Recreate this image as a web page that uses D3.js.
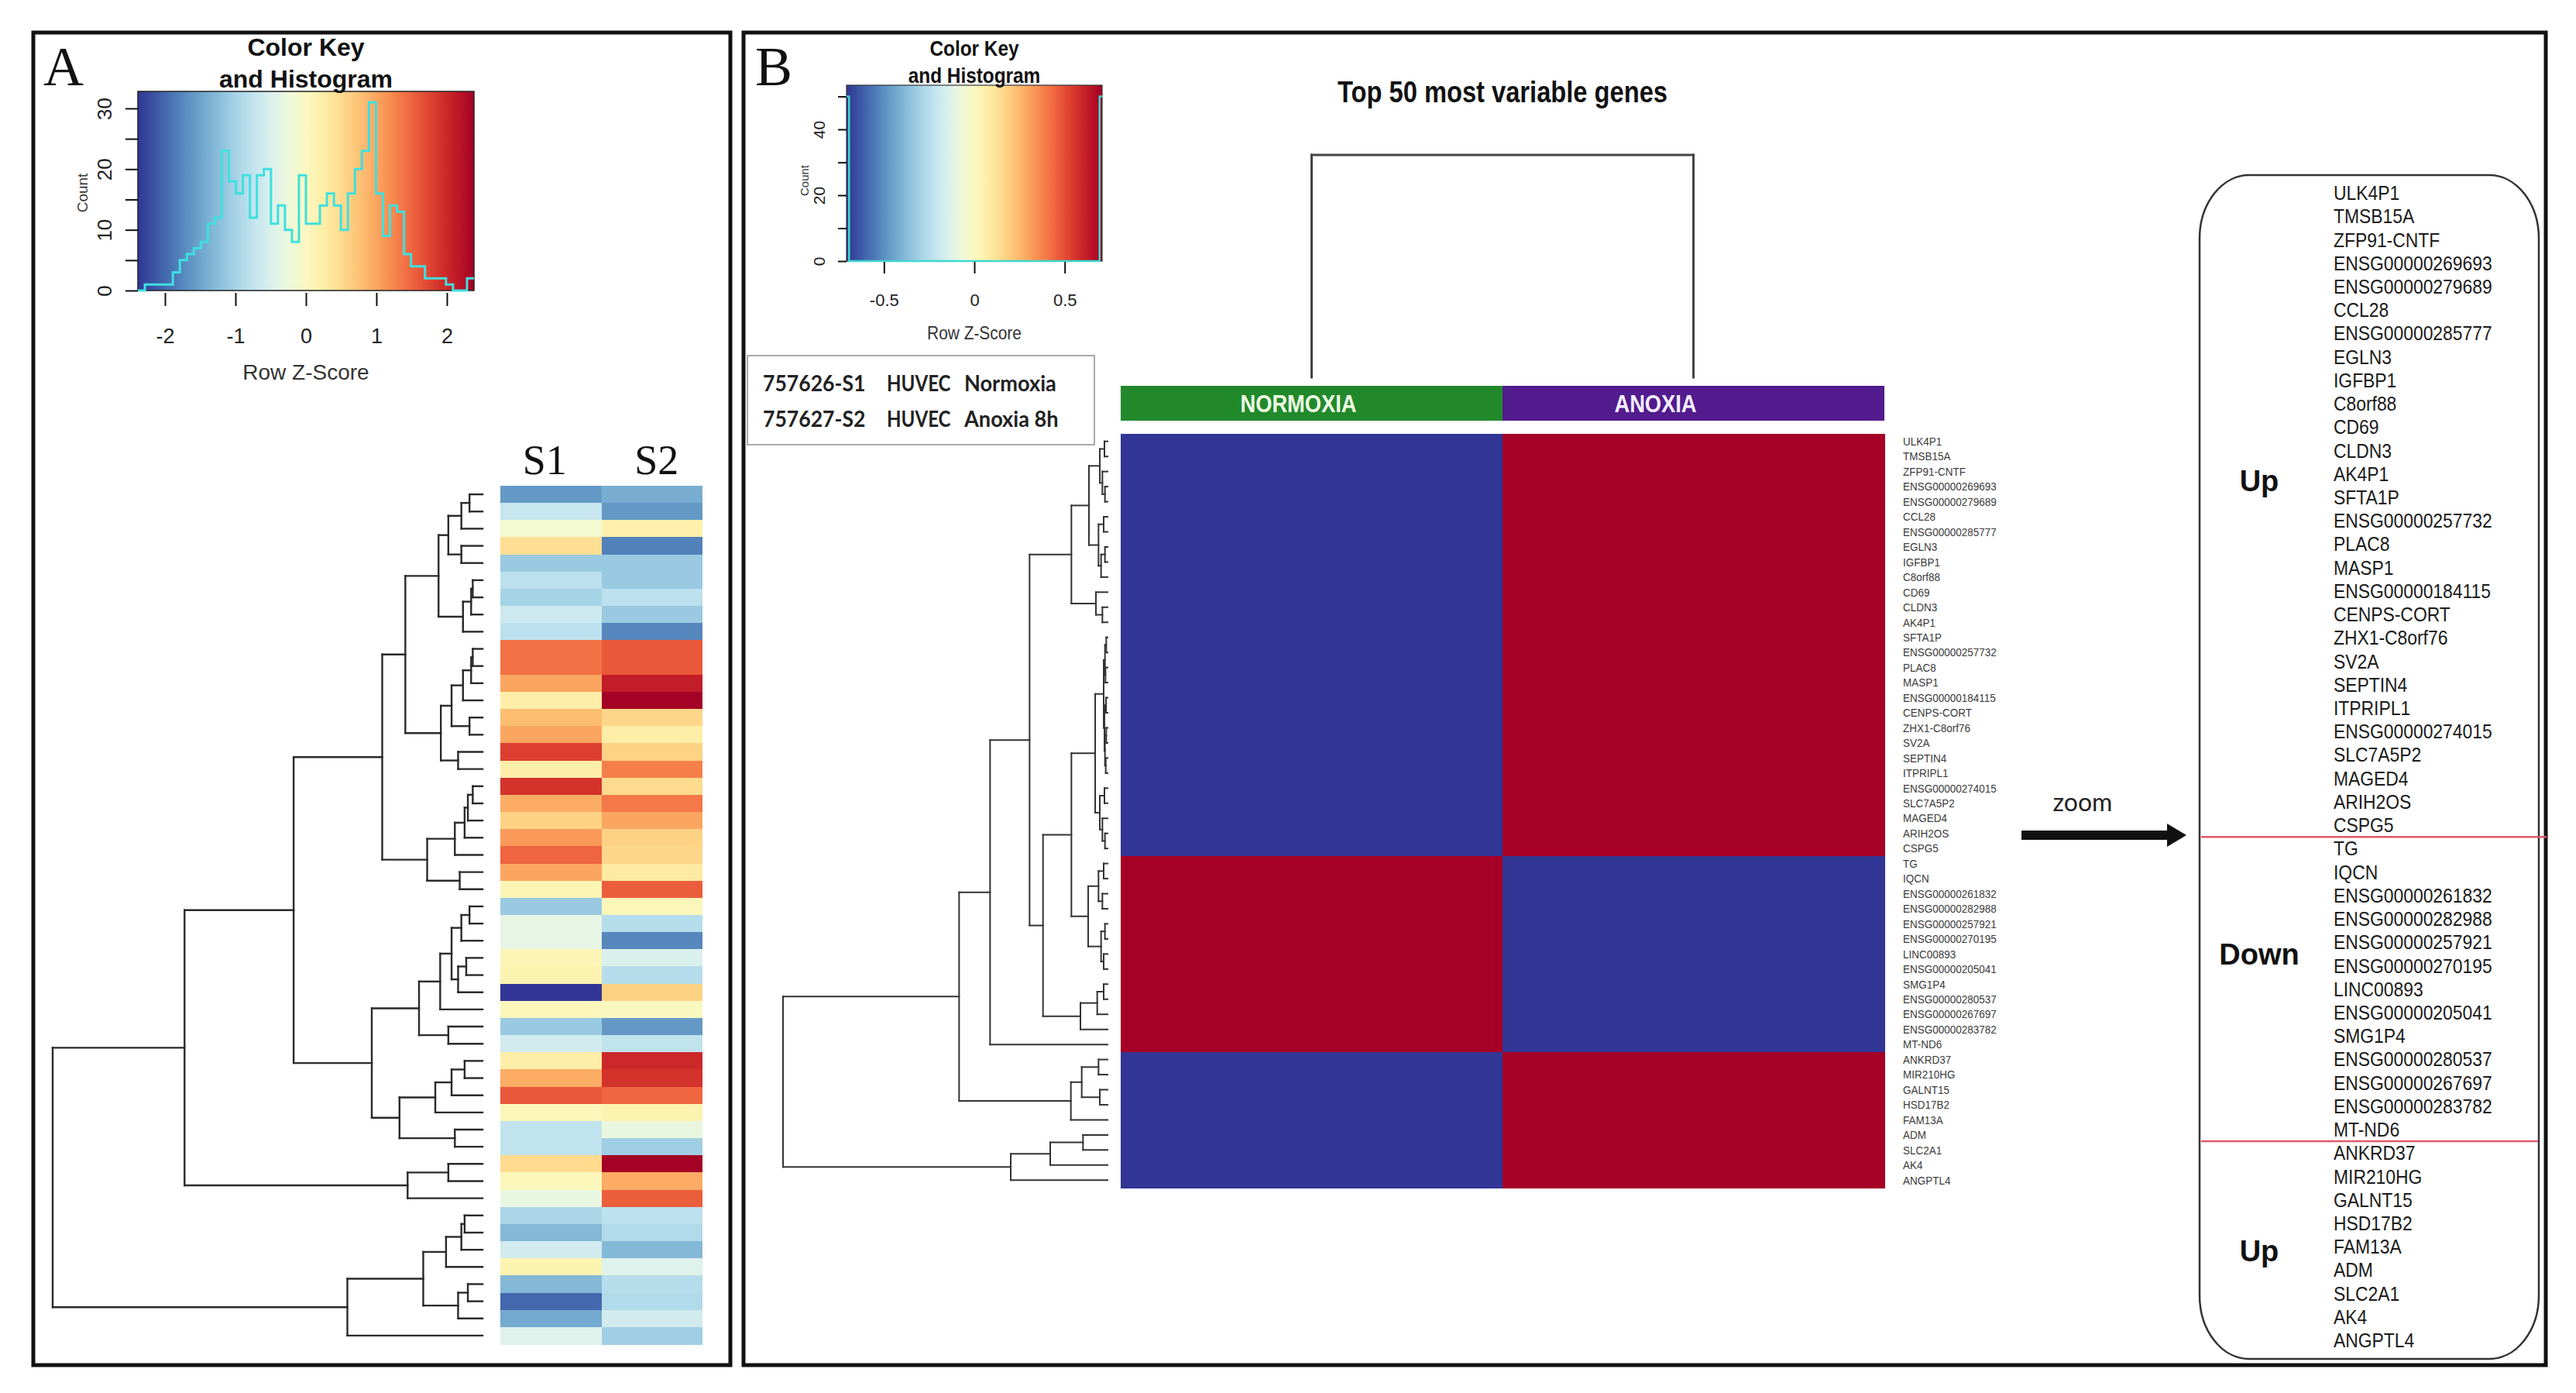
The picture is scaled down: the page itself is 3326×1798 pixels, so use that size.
<!DOCTYPE html>
<html>
<head>
<meta charset="utf-8">
<script src="https://cdn.jsdelivr.net/npm/d3@7"></script>
<style>
body { margin: 0; background: #fff; }
svg { display: block; }
</style>
</head>
<body>
<script>
// ---------- data : panel A ----------
var samplesA = ['S1', 'S2'];
var zA_S1 = [-1.6, -0.7, -0.15, 0.45, -1.1, -0.8, -1.0, -0.65, -0.8, 1.4,
             1.4, 1.0, 0.25, 0.8, 1.0, 1.8, 0.25, 1.9, 0.95, 0.6,
             1.1, 1.5, 1.0, 0.1, -1.1, -0.35, -0.35, 0.1, 0.15, -2.4,
             0.05, -1.1, -0.6, 0.25, 0.95, 1.6, 0.05, -0.75, -0.75, 0.5,
             0.05, -0.3, -0.95, -1.3, -0.6, 0.15, -1.3, -2.0, -1.45, -0.45];
var zA_S2 = [-1.4, -1.6, 0.2, -1.8, -1.1, -1.1, -0.8, -1.1, -1.75, 1.6,
             1.6, 2.1, 2.4, 0.55, 0.25, 0.6, 1.3, 0.5, 1.35, 1.0,
             0.6, 0.55, 0.3, 1.55, 0.05, -0.85, -1.75, -0.5, -0.85, 0.6,
             0.0, -1.6, -0.75, 2.0, 1.9, 1.5, 0.15, -0.3, -1.05, 2.4,
             0.95, 1.55, -0.8, -0.9, -1.3, -0.45, -0.85, -0.9, -0.6, -1.05];
// row dendrogram A : [height, left, right], leaves are row indices
var treeA = [13.2,
  [9.15,
    [5.8,
      [3.08,
        [2.37,
          [1.35, [1.05, [0.65, [0.4, 0, 1], 2], [0.65, 3, 4]], [0.6, [0.35, [0.3, 5, 6], 7], 8]],
          [1.28, [0.95, [0.6, [0.35, [0.3, 9, 10], 11], 12], [0.4, 13, 14]], [0.75, 15, 16]]
        ],
        [1.7, [0.85, [0.55, [0.45, [0.3, 17, 18], 19], 20], 21], [0.7, 22, 23]]
      ],
      [3.4,
        [1.95, [1.3, [0.95, [0.65, [0.4, 24, 25], 26], [0.75, [0.5, 27, 28], 29]], 30], [1.05, 31, 32]],
        [2.55, [1.45, [0.95, [0.55, 33, 34], 35], 36], [0.85, 37, 38]]
      ]
    ],
    [2.3, [1.05, 39, 40], 41]
  ],
  [4.15,
    [1.82, [1.12, [0.65, [0.55, 42, 43], 44], 45], [0.75, [0.45, 46, 47], 48]],
    49
  ]
];
var keyRangeA = [-2.385, 2.385];
var histA = [0, 1, 1, 1, 1, 3, 5, 6, 7, 8, 11, 12, 23, 18, 16, 19, 12, 19, 20, 11,
             14, 10, 8, 19, 11, 11, 14, 16, 14, 10, 16, 20, 23, 31, 16, 9, 14, 13, 6, 4,
             4, 2, 2, 2, 1, 0, 0, 2];
var keyTicksA = [-2, -1, 0, 1, 2];
var countTicksA = [0, 5, 10, 15, 20, 25, 30];

// ---------- data : panel B ----------
var samplesB = ['NORMOXIA', 'ANOXIA'];
var sampleColB = ['#22892b', '#521b8e'];
var genesB = ['ULK4P1', 'TMSB15A', 'ZFP91-CNTF', 'ENSG00000269693', 'ENSG00000279689', 'CCL28',
  'ENSG00000285777', 'EGLN3', 'IGFBP1', 'C8orf88', 'CD69', 'CLDN3', 'AK4P1', 'SFTA1P',
  'ENSG00000257732', 'PLAC8', 'MASP1', 'ENSG00000184115', 'CENPS-CORT', 'ZHX1-C8orf76', 'SV2A',
  'SEPTIN4', 'ITPRIPL1', 'ENSG00000274015', 'SLC7A5P2', 'MAGED4', 'ARIH2OS', 'CSPG5',
  'TG', 'IQCN', 'ENSG00000261832', 'ENSG00000282988', 'ENSG00000257921', 'ENSG00000270195',
  'LINC00893', 'ENSG00000205041', 'SMG1P4', 'ENSG00000280537', 'ENSG00000267697',
  'ENSG00000283782', 'MT-ND6',
  'ANKRD37', 'MIR210HG', 'GALNT15', 'HSD17B2', 'FAM13A', 'ADM', 'SLC2A1', 'AK4', 'ANGPTL4'];
// groups of the zoomed list; labelRow = list row where the group label sits
var groupsB = [{ label: 'Up', n: 28, labelRow: 12.3 }, { label: 'Down', n: 13, labelRow: 32.5 }, { label: 'Up', n: 9, labelRow: 45.2 }];
var zB_normoxia = [-0.71, -0.71, -0.71, -0.71, -0.71, -0.71, -0.71, -0.71, -0.71, -0.71,
  -0.71, -0.71, -0.71, -0.71, -0.71, -0.71, -0.71, -0.71, -0.71, -0.71,
  -0.71, -0.71, -0.71, -0.71, -0.71, -0.71, -0.71, -0.71,
  0.71, 0.71, 0.71, 0.71, 0.71, 0.71, 0.71, 0.71, 0.71, 0.71, 0.71, 0.71, 0.71,
  -0.71, -0.71, -0.71, -0.71, -0.71, -0.71, -0.71, -0.71, -0.71];
var zB_anoxia = [0.71, 0.71, 0.71, 0.71, 0.71, 0.71, 0.71, 0.71, 0.71, 0.71,
  0.71, 0.71, 0.71, 0.71, 0.71, 0.71, 0.71, 0.71, 0.71, 0.71,
  0.71, 0.71, 0.71, 0.71, 0.71, 0.71, 0.71, 0.71,
  -0.71, -0.71, -0.71, -0.71, -0.71, -0.71, -0.71, -0.71, -0.71, -0.71, -0.71, -0.71, -0.71,
  0.71, 0.71, 0.71, 0.71, 0.71, 0.71, 0.71, 0.71, 0.71];
var treeB = [12.57,
  [5.75,
    [4.55,
      [3.02,
        [1.4,
          [0.72,
            [0.3, [0.12, 0, 1], [0.2, 2, [0.1, 3, 4]]],
            [0.35, [0.15, 5, 6], [0.25, [0.1, 7, 8], 9]]
          ],
          [0.45, 10, [0.2, 11, 12]]
        ],
        [2.5,
          [1.4,
            [0.48,
              [0.15, [0.1, [0.05, 13, 14], [0.08, 15, 16]], [0.12, [0.06, 17, 18], [0.1, [0.05, 19, 20], [0.07, 21, 22]]]],
              [0.3, [0.12, 23, 24], [0.2, 25, [0.1, 26, 27]]]
            ],
            [0.75, [0.35, [0.15, 28, 29], [0.2, 30, 31]], [0.25, [0.1, 32, 33], [0.15, 34, 35]]]
          ],
          [1.05, [0.4, [0.15, 36, 37], 38], 39]
        ]
      ],
      40
    ],
    [1.42, [1.0, [0.35, 41, 42], [0.3, 43, 44]], 45]
  ],
  [3.75, [2.22, [0.95, 46, 47], 48], 49]
];
var colTreeB = [1, 0, 1];
var keyRangeB = [-0.707, 0.707];
var histB = [{ x0: -0.707, x1: -0.693, count: 50 }, { x0: -0.693, x1: 0.693, count: 0 }, { x0: 0.693, x1: 0.707, count: 50 }];
var keyTicksB = [-0.5, 0, 0.5];
var countTicksB = [0, 10, 20, 30, 40, 50];
var legendB = [['757626-S1', 'HUVEC', 'Normoxia'], ['757627-S2', 'HUVEC', 'Anoxia 8h']];

// ---------- setup ----------
var SANS = 'Liberation Sans, Arial, Helvetica, sans-serif';
var SERIF = 'Liberation Serif, Times New Roman, serif';
var CAL = 'Lato, Open Sans, sans-serif';
var svg = d3.select('body').append('svg').attr('width', 3326).attr('height', 1798);
var defs = svg.append('defs');

function label(g, x, y, s, size, o) {
  o = o || {};
  return g.append('text')
    .attr('transform', 'translate(' + x + ',' + y + ')' + (o.sx ? ' scale(' + o.sx + ',1)' : '') + (o.rot ? ' rotate(' + o.rot + ')' : ''))
    .attr('font-family', o.family || SANS).attr('font-size', size)
    .attr('font-weight', o.bold ? 'bold' : 'normal')
    .attr('text-anchor', o.anchor || 'start')
    .attr('dy', o.dy || 0)
    .attr('fill', o.fill || '#111').text(s);
}

function colorScale(range) {
  return d3.scaleSequential(function (t) { return d3.interpolateRdYlBu(1 - t); }).domain(range);
}

function gradient(id, col, range) {
  var gr = defs.append('linearGradient').attr('id', id)
    .attr('x1', '0%').attr('x2', '100%').attr('y1', '0%').attr('y2', '0%');
  d3.range(0, 1.0001, 0.05).forEach(function (t) {
    gr.append('stop').attr('offset', (t * 100) + '%').attr('stop-color', col(range[0] + t * (range[1] - range[0])));
  });
}

// dendrogram from nested [h, a, b]; pos(leaf) gives leaf position, hs(h) gives height position
function drawTree(g, tree, pos, hs, vertical, stroke, width) {
  var segs = [];
  function pt(p, h) { return vertical ? [p, h] : [h, p]; }
  function walk(node) {
    if (typeof node === 'number') return { p: pos(node), h: 0 };
    var a = walk(node[1]), b = walk(node[2]), x = hs(node[0]);
    segs.push([pt(a.p, x), pt(b.p, x)]);
    segs.push([pt(a.p, x), pt(a.p, hs(a.h))]);
    segs.push([pt(b.p, x), pt(b.p, hs(b.h))]);
    return { p: (a.p + b.p) / 2, h: node[0] };
  }
  walk(tree);
  g.selectAll('path.seg').data(segs).join('path').attr('class', 'seg')
    .attr('d', d3.line()).attr('fill', 'none').attr('stroke', stroke).attr('stroke-width', width)
    .attr('stroke-linecap', 'square');
}

function styleAxis(g, size) {
  g.select('.domain').remove();
  g.selectAll('.tick line').attr('stroke', '#111').attr('stroke-width', 2);
  g.selectAll('.tick text').attr('font-size', size).attr('font-family', SANS).attr('fill', '#222');
}

// ---------- panel frames ----------
svg.append('rect').attr('x', 43).attr('y', 42).attr('width', 900).attr('height', 1720)
  .attr('fill', 'none').attr('stroke', '#111').attr('stroke-width', 5);
svg.append('rect').attr('x', 960).attr('y', 42).attr('width', 2327).attr('height', 1720)
  .attr('fill', 'none').attr('stroke', '#111').attr('stroke-width', 5);
label(svg, 56, 110, 'A', 72, { family: SERIF });
label(svg, 975, 110, 'B', 72, { family: SERIF });

// ================= PANEL A =================
var gA = svg.append('g');
var colA = colorScale(keyRangeA);
gradient('gradA', colA, keyRangeA);
var zKeyA = d3.scaleLinear().domain(keyRangeA).range([178, 612]);
var cntA = d3.scaleLinear().domain([0, 32.8]).range([375, 118]);

gA.append('rect').attr('x', 178).attr('y', 118).attr('width', 434).attr('height', 257)
  .attr('fill', 'url(#gradA)').attr('stroke', '#222').attr('stroke-width', 1.5);

var binA = (keyRangeA[1] - keyRangeA[0]) / histA.length;
var ptsA = histA.map(function (c, i) { return [keyRangeA[0] + i * binA, c]; });
ptsA.push([keyRangeA[1], histA[histA.length - 1]]);
gA.append('path').datum(ptsA)
  .attr('d', d3.line().curve(d3.curveStepAfter).x(function (d) { return zKeyA(d[0]); }).y(function (d) { return cntA(d[1]); }))
  .attr('fill', 'none').attr('stroke', '#3fe0e0').attr('stroke-width', 3);

var axAx = gA.append('g').attr('transform', 'translate(0,378)')
  .call(d3.axisBottom(zKeyA).tickValues(keyTicksA).tickSize(17).tickPadding(29).tickFormat(function (d) { return String(d); }));
styleAxis(axAx, 27);
var axAy = gA.append('g').attr('transform', 'translate(178,0)')
  .call(d3.axisLeft(cntA).tickValues(countTicksA).tickSize(16).tickFormat(function (d) { return d % 10 === 0 ? String(d) : ''; }));
styleAxis(axAy, 26);
axAy.selectAll('.tick text').attr('transform', 'rotate(-90)').attr('x', 0).attr('y', -34).attr('dy', 0).attr('text-anchor', 'middle');
label(gA, 113, 249, 'Count', 19, { rot: -90, anchor: 'middle', fill: '#333' });
label(gA, 395, 490, 'Row Z-Score', 28, { anchor: 'middle', fill: '#333' });
label(gA, 395, 72, 'Color Key', 32, { anchor: 'middle', bold: true });
label(gA, 395, 113, 'and Histogram', 32, { anchor: 'middle', bold: true });

// heatmap A
var yA = d3.scaleBand().domain(d3.range(zA_S1.length)).range([627, 1735]);
var xA = d3.scaleBand().domain(samplesA).range([646, 907]);
var cellsA = [];
zA_S1.forEach(function (v, i) { cellsA.push({ s: 'S1', r: i, z: v }); });
zA_S2.forEach(function (v, i) { cellsA.push({ s: 'S2', r: i, z: v }); });
gA.selectAll('rect.cellA').data(cellsA).join('rect').attr('class', 'cellA')
  .attr('x', function (d) { return xA(d.s); }).attr('y', function (d) { return yA(d.r); })
  .attr('width', xA.bandwidth()).attr('height', yA.bandwidth() + 0.6)
  .attr('shape-rendering', 'crispEdges')
  .attr('fill', function (d) { return colA(d.z); });
samplesA.forEach(function (s, i) {
  label(gA, xA(s) + xA.bandwidth() / 2 + (i === 0 ? -8 : 6), 612, s, 54, { family: SERIF, anchor: 'middle' });
});
var hA = d3.scaleLinear().domain([0, 13.2]).range([623, 68]);
drawTree(gA.append('g'), treeA, function (i) { return yA(i) + yA.bandwidth() / 2; }, hA, false, '#2a2a2a', 2.4);

// ================= PANEL B =================
var gB = svg.append('g');
var colB = colorScale(keyRangeB);
gradient('gradB', colB, keyRangeB);
var zKeyB = d3.scaleLinear().domain(keyRangeB).range([1093, 1423]);
var cntB = d3.scaleLinear().domain([0, 53.4]).range([337, 110]);
gB.append('rect').attr('x', 1093).attr('y', 110).attr('width', 330).attr('height', 227)
  .attr('fill', 'url(#gradB)').attr('stroke', '#333').attr('stroke-width', 1.2);
var ptsB = histB.map(function (d) { return [d.x0, d.count]; });
ptsB.push([histB[histB.length - 1].x1, histB[histB.length - 1].count]);
gB.append('path').datum(ptsB)
  .attr('d', d3.line().curve(d3.curveStepAfter).x(function (d) { return zKeyB(d[0]); }).y(function (d) { return cntB(d[1]); }))
  .attr('fill', 'none').attr('stroke', '#3fd8d0').attr('stroke-width', 2.5);
var axBx = gB.append('g').attr('transform', 'translate(0,338)')
  .call(d3.axisBottom(zKeyB).tickValues(keyTicksB).tickSize(15).tickPadding(26).tickFormat(function (d) { return String(d); }));
styleAxis(axBx, 22);
var axBy = gB.append('g').attr('transform', 'translate(1093,0)')
  .call(d3.axisLeft(cntB).tickValues(countTicksB).tickSize(11).tickFormat(function (d) { return d % 20 === 0 ? String(d) : ''; }));
styleAxis(axBy, 21);
axBy.selectAll('.tick text').attr('transform', 'rotate(-90)').attr('x', 0).attr('y', -28).attr('dy', 0).attr('text-anchor', 'middle');
label(gB, 1044, 233, 'Count', 15, { rot: -90, anchor: 'middle', fill: '#333' });
label(gB, 1258, 438, 'Row Z-Score', 24, { anchor: 'middle', fill: '#333', sx: 0.87 });
label(gB, 1258, 72, 'Color Key', 28, { anchor: 'middle', bold: true, sx: 0.87 });
label(gB, 1258, 107, 'and Histogram', 28, { anchor: 'middle', bold: true, sx: 0.87 });

// sample legend
gB.append('rect').attr('x', 965).attr('y', 459).attr('width', 448).attr('height', 115)
  .attr('fill', '#fff').attr('stroke', '#aaa').attr('stroke-width', 2);
legendB.forEach(function (row, i) {
  var y = 505 + i * 46;
  label(gB, 985, y, row[0], 28, { family: CAL, bold: true, fill: '#222', sx: 0.95 });
  label(gB, 1145, y, row[1], 28, { family: CAL, bold: true, fill: '#222', sx: 0.86 });
  label(gB, 1245, y, row[2], 28, { family: CAL, bold: true, fill: '#222', sx: 0.97 });
});

label(gB, 1940, 132, 'Top 50 most variable genes', 38, { anchor: 'middle', bold: true, sx: 0.86 });

// heatmap B
var xB = d3.scaleBand().domain(samplesB).range([1447, 2433]);
var yB = d3.scaleBand().domain(d3.range(genesB.length)).range([560, 1533]);
var cellsB = [];
zB_normoxia.forEach(function (v, i) { cellsB.push({ s: 'NORMOXIA', r: i, z: v }); });
zB_anoxia.forEach(function (v, i) { cellsB.push({ s: 'ANOXIA', r: i, z: v }); });
gB.selectAll('rect.cellB').data(cellsB).join('rect').attr('class', 'cellB')
  .attr('x', function (d) { return xB(d.s); }).attr('y', function (d) { return yB(d.r); })
  .attr('width', xB.bandwidth() + 0.6).attr('height', yB.bandwidth() + 0.6)
  .attr('shape-rendering', 'crispEdges')
  .attr('fill', function (d) { return colB(d.z); });

// column side colours
samplesB.forEach(function (s, i) {
  gB.append('rect').attr('x', xB(s)).attr('y', 498).attr('width', xB.bandwidth()).attr('height', 45).attr('fill', sampleColB[i]);
  label(gB, xB(s) + xB.bandwidth() / 2 + (i === 0 ? -17 : -49), 532, s, 31, { anchor: 'middle', bold: true, sx: 0.88, fill: i === 0 ? '#eefde6' : '#f5eeff' });
});

// column dendrogram
var hColB = d3.scaleLinear().domain([0, 1]).range([487, 200]);
drawTree(gB.append('g'), colTreeB, function (i) { return xB(samplesB[i]) + xB.bandwidth() / 2; }, hColB, true, '#444', 3);

// row dendrogram
var hB = d3.scaleLinear().domain([0, 12.57]).range([1430, 1011]);
drawTree(gB.append('g'), treeB, function (i) { return yB(i) + yB.bandwidth() / 2; }, hB, false, '#333', 2);

// row labels
genesB.forEach(function (g, i) {
  label(gB, 2457, yB(i) + yB.bandwidth() / 2, g, 15, { dy: '0.35em', fill: '#3a3a3a', sx: 0.9 });
});

// zoom arrow
label(gB, 2689, 1047, 'zoom', 32, { family: CAL, anchor: 'middle', fill: '#222' });
gB.append('path').attr('d', 'M2610,1072 L2798,1072 L2798,1063 L2823,1078 L2798,1093 L2798,1084 L2610,1084 Z').attr('fill', '#111');

// zoomed gene list
var yList = d3.scaleLinear().domain([0, genesB.length - 1]).range([249, 1730]);
gB.append('rect').attr('x', 2840).attr('y', 226).attr('width', 438).attr('height', 1528)
  .attr('rx', 64).attr('ry', 82).attr('fill', 'none').attr('stroke', '#333').attr('stroke-width', 2.5);
genesB.forEach(function (g, i) {
  label(gB, 3013, yList(i), g, 26, { dy: '0.35em', fill: '#1a1a1a', sx: 0.88 });
});
var start = 0;
groupsB.forEach(function (gr, k) {
  var end = start + gr.n - 1;
  label(gB, 2917, yList(gr.labelRow), gr.label, 38, { anchor: 'middle', bold: true, dy: '0.35em', fill: '#111' });
  if (k < groupsB.length - 1) {
    var yy = (yList(end) + yList(end + 1)) / 2;
    gB.append('line').attr('x1', 2842).attr('x2', k === 0 ? 3288 : 3277).attr('y1', yy).attr('y2', yy)
      .attr('stroke', '#e0586a').attr('stroke-width', 2.5);
  }
  start = end + 1;
});
</script>
</body>
</html>
